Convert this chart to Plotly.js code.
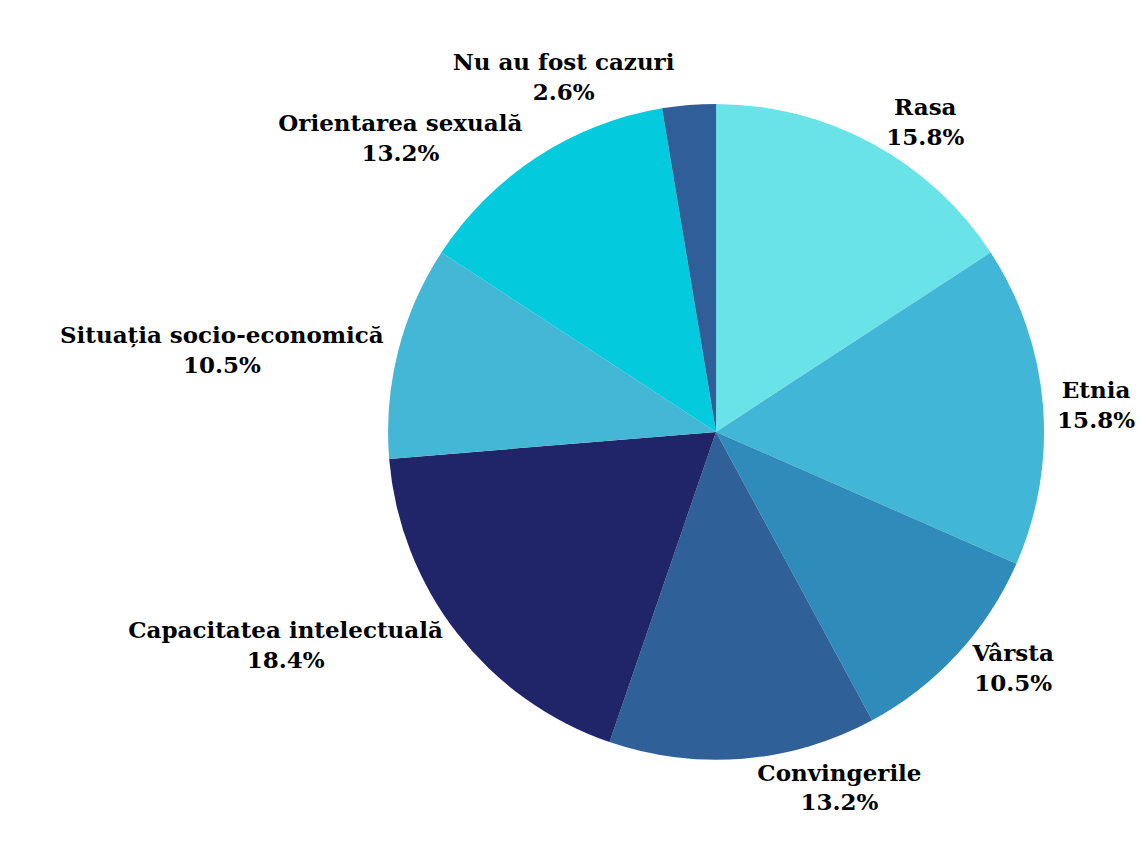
<!DOCTYPE html>
<html>
<head>
<meta charset="utf-8">
<script src="https://cdn.plot.ly/plotly-3.0.1.min.js"></script>
<style>html,body{margin:0;padding:0;background:#fff;}#chart{width:1142px;height:851px;}</style>
</head>
<body>
<div id="chart"></div>
<script>
const categories = ["Rasa", "Etnia", "Vârsta", "Convingerile", "Capacitatea intelectuală", "Situația socio-economică", "Orientarea sexuală", "Nu au fost cazuri"];
const counts = [6, 6, 4, 5, 7, 4, 5, 1];
const colors = ["#69E3E8", "#42B6D6", "#2E8BBA", "#2F6098", "#1F2568", "#44B6D6", "#03CADC", "#2F5E98"];

const trace = {
  type: "pie",
  labels: categories,
  values: counts,
  sort: false,
  direction: "clockwise",
  rotation: 0,
  marker: {colors: colors, line: {width: 0}},
  textposition: "outside",
  texttemplate: "<b>%{label}</b><br><b>%{percent:.1%}</b>",
  textfont: {family: "DejaVu Serif, serif", size: 23, color: "#000"},
  outsidetextfont: {family: "DejaVu Serif, serif", size: 23, color: "#000"},
  hoverinfo: "label+percent",
  showlegend: false,
  domain: {x: [0.3398, 0.9142], y: [0.107, 0.878]}
};

const layout = {
  width: 1142, height: 851,
  margin: {l: 0, r: 0, t: 0, b: 0},
  paper_bgcolor: "#fff",
  showlegend: false
};

Plotly.newPlot("chart", [trace], layout, {displayModeBar: false, staticPlot: true});
</script>
</body>
</html>
